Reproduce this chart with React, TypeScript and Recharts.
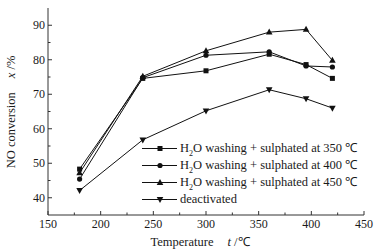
import React from 'react';
import { LineChart, Line, XAxis, YAxis, Legend, Label } from 'recharts';

const temps = [180, 240, 300, 360, 395, 420];
const sulph350 = [48.3, 74.6, 76.8, 81.6, 78.6, 74.6];
const sulph400 = [45.4, 74.8, 81.3, 82.3, 78.2, 77.9];
const sulph450 = [47.2, 75.2, 82.6, 88.0, 88.8, 79.8];
const deactivated = [42.1, 56.8, 65.2, 71.3, 68.7, 66.0];

const seriesNames = [
  'H2O washing + sulphated at 350 ℃',
  'H2O washing + sulphated at 400 ℃',
  'H2O washing + sulphated at 450 ℃',
  'deactivated',
];
const seriesKeys = ['s350', 's400', 's450', 'deact'];
const seriesMarkers = ['square', 'circle', 'triangle', 'triangleDown'];

const xMajor = [150, 200, 250, 300, 350, 400, 450];
const xMinor = [175, 225, 275, 325, 375, 425];
const yMajor = [40, 50, 60, 70, 80, 90];
const yMinor = [45, 55, 65, 75, 85];

const data = temps.map((t, i) => ({
  t,
  s350: sulph350[i],
  s400: sulph400[i],
  s450: sulph450[i],
  deact: deactivated[i],
}));

const FONT = '"Liberation Serif", "Times New Roman", serif';
const INK = '#111';
const AXIS = '#333';

function marker(kind: string, cx: number, cy: number, key?: string) {
  if (kind === 'square') {
    return <rect key={key} x={cx - 2.5} y={cy - 2.5} width={5} height={5} fill={INK} />;
  }
  if (kind === 'circle') {
    return <circle key={key} cx={cx} cy={cy} r={2.6} fill={INK} />;
  }
  if (kind === 'triangle') {
    return (
      <polygon key={key} points={`${cx},${cy - 3.6} ${cx - 3.3},${cy + 2.4} ${cx + 3.3},${cy + 2.4}`} fill={INK} />
    );
  }
  return (
    <polygon key={key} points={`${cx},${cy + 3.6} ${cx - 3.3},${cy - 2.4} ${cx + 3.3},${cy - 2.4}`} fill={INK} />
  );
}

const makeDot = (kind: string) => (props: any) => {
  const { cx, cy, index } = props;
  if (cx == null || cy == null) return <g key={`n${index}`} />;
  return marker(kind, cx, cy, `${kind}-${index}`);
};

const XTick = (props: any) => {
  const { x, y, payload } = props;
  const major = xMajor.includes(payload.value);
  return (
    <g>
      <line x1={x} x2={x} y1={y} y2={y - (major ? 4 : 2.5)} stroke={AXIS} strokeWidth={1} />
      {major && (
        <text x={x} y={y + 13} textAnchor="middle" fontFamily={FONT} fontSize={12} fill="#1a1a1a">
          {payload.value}
        </text>
      )}
    </g>
  );
};

const YTick = (props: any) => {
  const { x, y, payload } = props;
  const major = yMajor.includes(payload.value);
  return (
    <g>
      <line x1={x} x2={x + (major ? 4 : 2.5)} y1={y} y2={y} stroke={AXIS} strokeWidth={1} />
      {major && (
        <text x={x - 3} y={y + 4} textAnchor="end" fontFamily={FONT} fontSize={12} fill="#1a1a1a">
          {payload.value}
        </text>
      )}
    </g>
  );
};

function renderName(name: string) {
  if (name.startsWith('H2O')) {
    return (
      <>
        H<sub style={{ fontSize: 8, verticalAlign: 'sub', lineHeight: 0 }}>2</sub>O{name.slice(3)}
      </>
    );
  }
  return name;
}

const LegendContent = () => (
  <div style={{ fontFamily: FONT, fontSize: 12.5, color: '#1a1a1a' }}>
    {seriesNames.map((n, i) => (
      <div key={n} style={{ display: 'flex', alignItems: 'center', height: 17, whiteSpace: 'nowrap' }}>
        <svg width={40} height={17} style={{ display: 'block' }}>
          <line x1={2} x2={37} y1={8.5} y2={8.5} stroke={INK} strokeWidth={1} />
          {marker(seriesMarkers[i], 20, 8.5)}
        </svg>
        <span style={{ lineHeight: '17px' }}>{renderName(n)}</span>
      </div>
    ))}
  </div>
);

export default function App() {
  return (
    <div style={{ position: 'absolute', left: 0, top: 0, width: 378, height: 251, background: '#fff' }}>
      <LineChart width={378} height={251} data={data} margin={{ top: 8, right: 14, bottom: 0, left: 0 }}>
        <XAxis
          dataKey="t"
          type="number"
          domain={[150, 450]}
          ticks={[...xMajor, ...xMinor].sort((a, b) => a - b)}
          interval={0}
          tickSize={0}
          tickMargin={0}
          tickLine={false}
          tick={<XTick />}
          height={36}
          axisLine={{ stroke: AXIS }}
        >
          <Label
            content={() => (
              <text x={200} y={246} textAnchor="middle" fontFamily={FONT} fontSize={12.5} fill="#1a1a1a">
                Temperature
                <tspan dx={14} fontStyle="italic">t</tspan>
                <tspan> /℃</tspan>
              </text>
            )}
          />
        </XAxis>
        <XAxis
          xAxisId="top"
          orientation="top"
          type="number"
          domain={[150, 450]}
          height={0}
          tick={false}
          tickLine={false}
          axisLine={{ stroke: AXIS }}
        />
        <YAxis
          type="number"
          domain={[35, 95]}
          ticks={[...yMajor, ...yMinor].sort((a, b) => a - b)}
          interval={0}
          tickSize={0}
          tickMargin={0}
          tickLine={false}
          tick={<YTick />}
          width={48}
          axisLine={{ stroke: AXIS }}
        >
          <Label
            content={() => (
              <text
                x={11}
                y={112}
                transform="rotate(-90 11 112)"
                textAnchor="middle"
                dominantBaseline="central"
                fontFamily={FONT}
                fontSize={12.5}
                fill="#1a1a1a"
              >
                NO conversion
                <tspan dx={14} fontStyle="italic">x</tspan>
                <tspan> /%</tspan>
              </text>
            )}
          />
        </YAxis>
        <YAxis
          yAxisId="right"
          orientation="right"
          type="number"
          domain={[35, 95]}
          width={0}
          tick={false}
          tickLine={false}
          axisLine={{ stroke: AXIS }}
        />
        {seriesKeys.map((k, i) => (
          <Line
            key={k}
            dataKey={k}
            name={seriesNames[i]}
            stroke={INK}
            strokeWidth={1}
            dot={makeDot(seriesMarkers[i])}
            activeDot={false}
            isAnimationActive={false}
          />
        ))}
        <Legend
          layout="vertical"
          align="center"
          verticalAlign="middle"
          content={<LegendContent />}
          wrapperStyle={{ left: 140, top: 140, width: 232, height: 70 }}
        />
      </LineChart>
    </div>
  );
}
